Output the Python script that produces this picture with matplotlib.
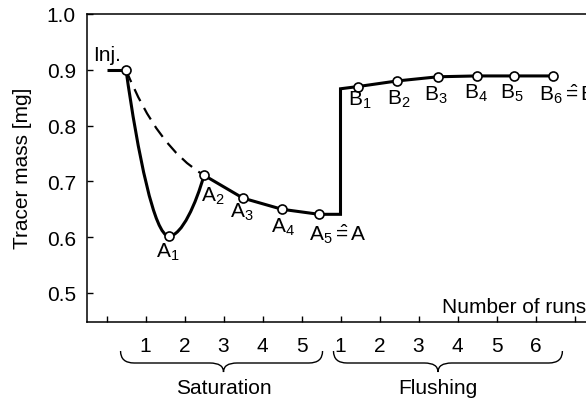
import matplotlib
matplotlib.use('Agg')
import matplotlib.pyplot as plt
from matplotlib.path import Path
from matplotlib.patches import PathPatch
from matplotlib.transforms import blended_transform_factory

plt.rcParams['font.family'] = ['Liberation Sans', 'DejaVu Sans']
plt.rcParams['mathtext.fontset'] = 'custom'
plt.rcParams['mathtext.rm'] = 'Liberation Sans'
plt.rcParams['mathtext.it'] = 'Liberation Sans:italic'
plt.rcParams['mathtext.bf'] = 'Liberation Sans:bold'

# data: injection point, saturation runs A1..A5, flushing runs B1..B6
inj_x = 0.5
inj_mass = 0.90
start_x = 0.0
sat_x = [1.6, 2.5, 3.5, 4.5, 5.45]
sat_mass = [0.602, 0.711, 0.670, 0.650, 0.641]
switch_x = 6.0
switch_mass = 0.866
flush_x = [6.45, 7.45, 8.5, 9.5, 10.45, 11.45]
flush_mass = [0.870, 0.880, 0.8875, 0.889, 0.889, 0.889]
sat_labels = ['A$_1$', 'A$_2$', 'A$_3$', 'A$_4$', r'A$_5$$\hat{=}$A']
flush_labels = ['B$_1$', 'B$_2$', 'B$_3$', 'B$_4$', 'B$_5$', r'B$_6$$\hat{=}$B']
tick_labels = ['', '1', '2', '3', '4', '5', '1', '2', '3', '4', '5', '6', '']
yticks = [0.5, 0.6, 0.7, 0.8, 0.9, 1.0]

# label offsets (points) from each marker: left edge / top edge
sat_off = [(-9, -3.5), (-2, -7), (-9, -2), (-8, -4.5), (-7, -5)]
flush_off = [(-7, -1.5), (-7, -4.5), (-10, -5), (-9.5, -4), (-10, -4), (-10, -4)]

fig = plt.figure(figsize=(5.86, 4.02), dpi=100)
ax = fig.add_axes([87 / 586, 1 - 323 / 402, 507 / 586, 308 / 402])
ax.set_xlim(-0.5, 12.5)
ax.set_ylim(0.448, 1.0)

lw = 2.2
# flat line before injection
ax.plot([start_x, inj_x], [inj_mass, inj_mass], color='black', lw=lw, solid_capstyle='butt', zorder=2)

# smooth curve Inj -> A1 -> A2
a1 = (sat_x[0], sat_mass[0])
a2 = (sat_x[1], sat_mass[1])
p0 = (inj_x, inj_mass)
verts = [p0,
         (p0[0] + 0.3, p0[1] - 0.15), (a1[0] - 0.37, a1[1]), a1,
         (a1[0] + 0.33, a1[1]), (a2[0] - 0.2, a2[1] - 0.05), a2]
codes = [Path.MOVETO] + [Path.CURVE4] * 6
ax.add_patch(PathPatch(Path(verts, codes), fill=False, lw=lw, edgecolor='black', zorder=2))

# dashed curve Inj -> A2
dverts = [p0, (p0[0] + 0.8, a2[1] + 0.05), a2]
dpatch = PathPatch(Path(dverts, [Path.MOVETO, Path.CURVE3, Path.CURVE3]), fill=False,
                   lw=1.6, edgecolor='black', linestyle=(0, (6, 3.5)), zorder=2)
ax.add_patch(dpatch)

# straight segments A2 .. A5, jump, B1 .. B6
line_x = sat_x[1:] + [switch_x, switch_x] + flush_x
line_y = sat_mass[1:] + [sat_mass[-1], switch_mass] + flush_mass
ax.plot(line_x, line_y, color='black', lw=lw, solid_joinstyle='miter', zorder=2)

# markers
mx = [inj_x] + sat_x + flush_x
my = [inj_mass] + sat_mass + flush_mass
ax.plot(mx, my, 'o', ms=6.5, mfc='white', mec='black', mew=1.2, zorder=3)

# point labels
fs = 15
ax.annotate('Inj.', (inj_x, inj_mass), xytext=(-24, 4), textcoords='offset points',
            ha='left', va='bottom', fontsize=fs)
for i in range(len(sat_x)):
    ax.annotate(sat_labels[i], (sat_x[i], sat_mass[i]), xytext=sat_off[i],
                textcoords='offset points', ha='left', va='top', fontsize=fs)
for i in range(len(flush_x)):
    ax.annotate(flush_labels[i], (flush_x[i], flush_mass[i]), xytext=flush_off[i],
                textcoords='offset points', ha='left', va='top', fontsize=fs)

# axes style
ax.spines['right'].set_visible(False)
for s in ['top', 'left', 'bottom']:
    ax.spines[s].set_linewidth(1.1)
ax.set_xticks(range(13))
ax.set_xticklabels(tick_labels)
ax.set_yticks(yticks)
ax.set_yticklabels(['%.1f' % v for v in yticks])
ax.tick_params(axis='both', direction='in', length=4, width=1, labelsize=15)
ax.tick_params(axis='x', pad=10)
ax.tick_params(axis='y', pad=8)
fig.text(23 / 586, 1 - 168 / 402, 'Tracer mass [mg]', rotation=90, ha='center', va='center', fontsize=15)
fig.text(1.0, 1 - 308 / 402, 'Number of runs', ha='right', va='center', fontsize=15)

# curly braces under the tick labels
trans = blended_transform_factory(ax.transData, fig.transFigure)


def brace(x0, x1, xt, text):
    ytop, ymid, ybot = 1 - 352 / 402, 1 - 364 / 402, 1 - 373 / 402
    r = 0.35
    v = [(x0, ytop), (x0, ymid), (x0 + r, ymid),
         (xt - r, ymid),
         (xt, ymid), (xt, ybot),
         (xt, ymid), (xt + r, ymid),
         (x1 - r, ymid),
         (x1, ymid), (x1, ytop)]
    c = [Path.MOVETO, Path.CURVE3, Path.CURVE3, Path.LINETO,
         Path.CURVE3, Path.CURVE3, Path.CURVE3, Path.CURVE3,
         Path.LINETO, Path.CURVE3, Path.CURVE3]
    fig.add_artist(PathPatch(Path(v, c), fill=False, lw=1.0, edgecolor='black', transform=trans))
    fig.text(xt, 1 - 389 / 402, text, transform=trans, ha='center', va='center', fontsize=15)


brace(0.36, 5.54, 3.0, 'Saturation')
brace(5.82, 11.69, 8.5, 'Flushing')

plt.savefig('out.png', dpi=100)
